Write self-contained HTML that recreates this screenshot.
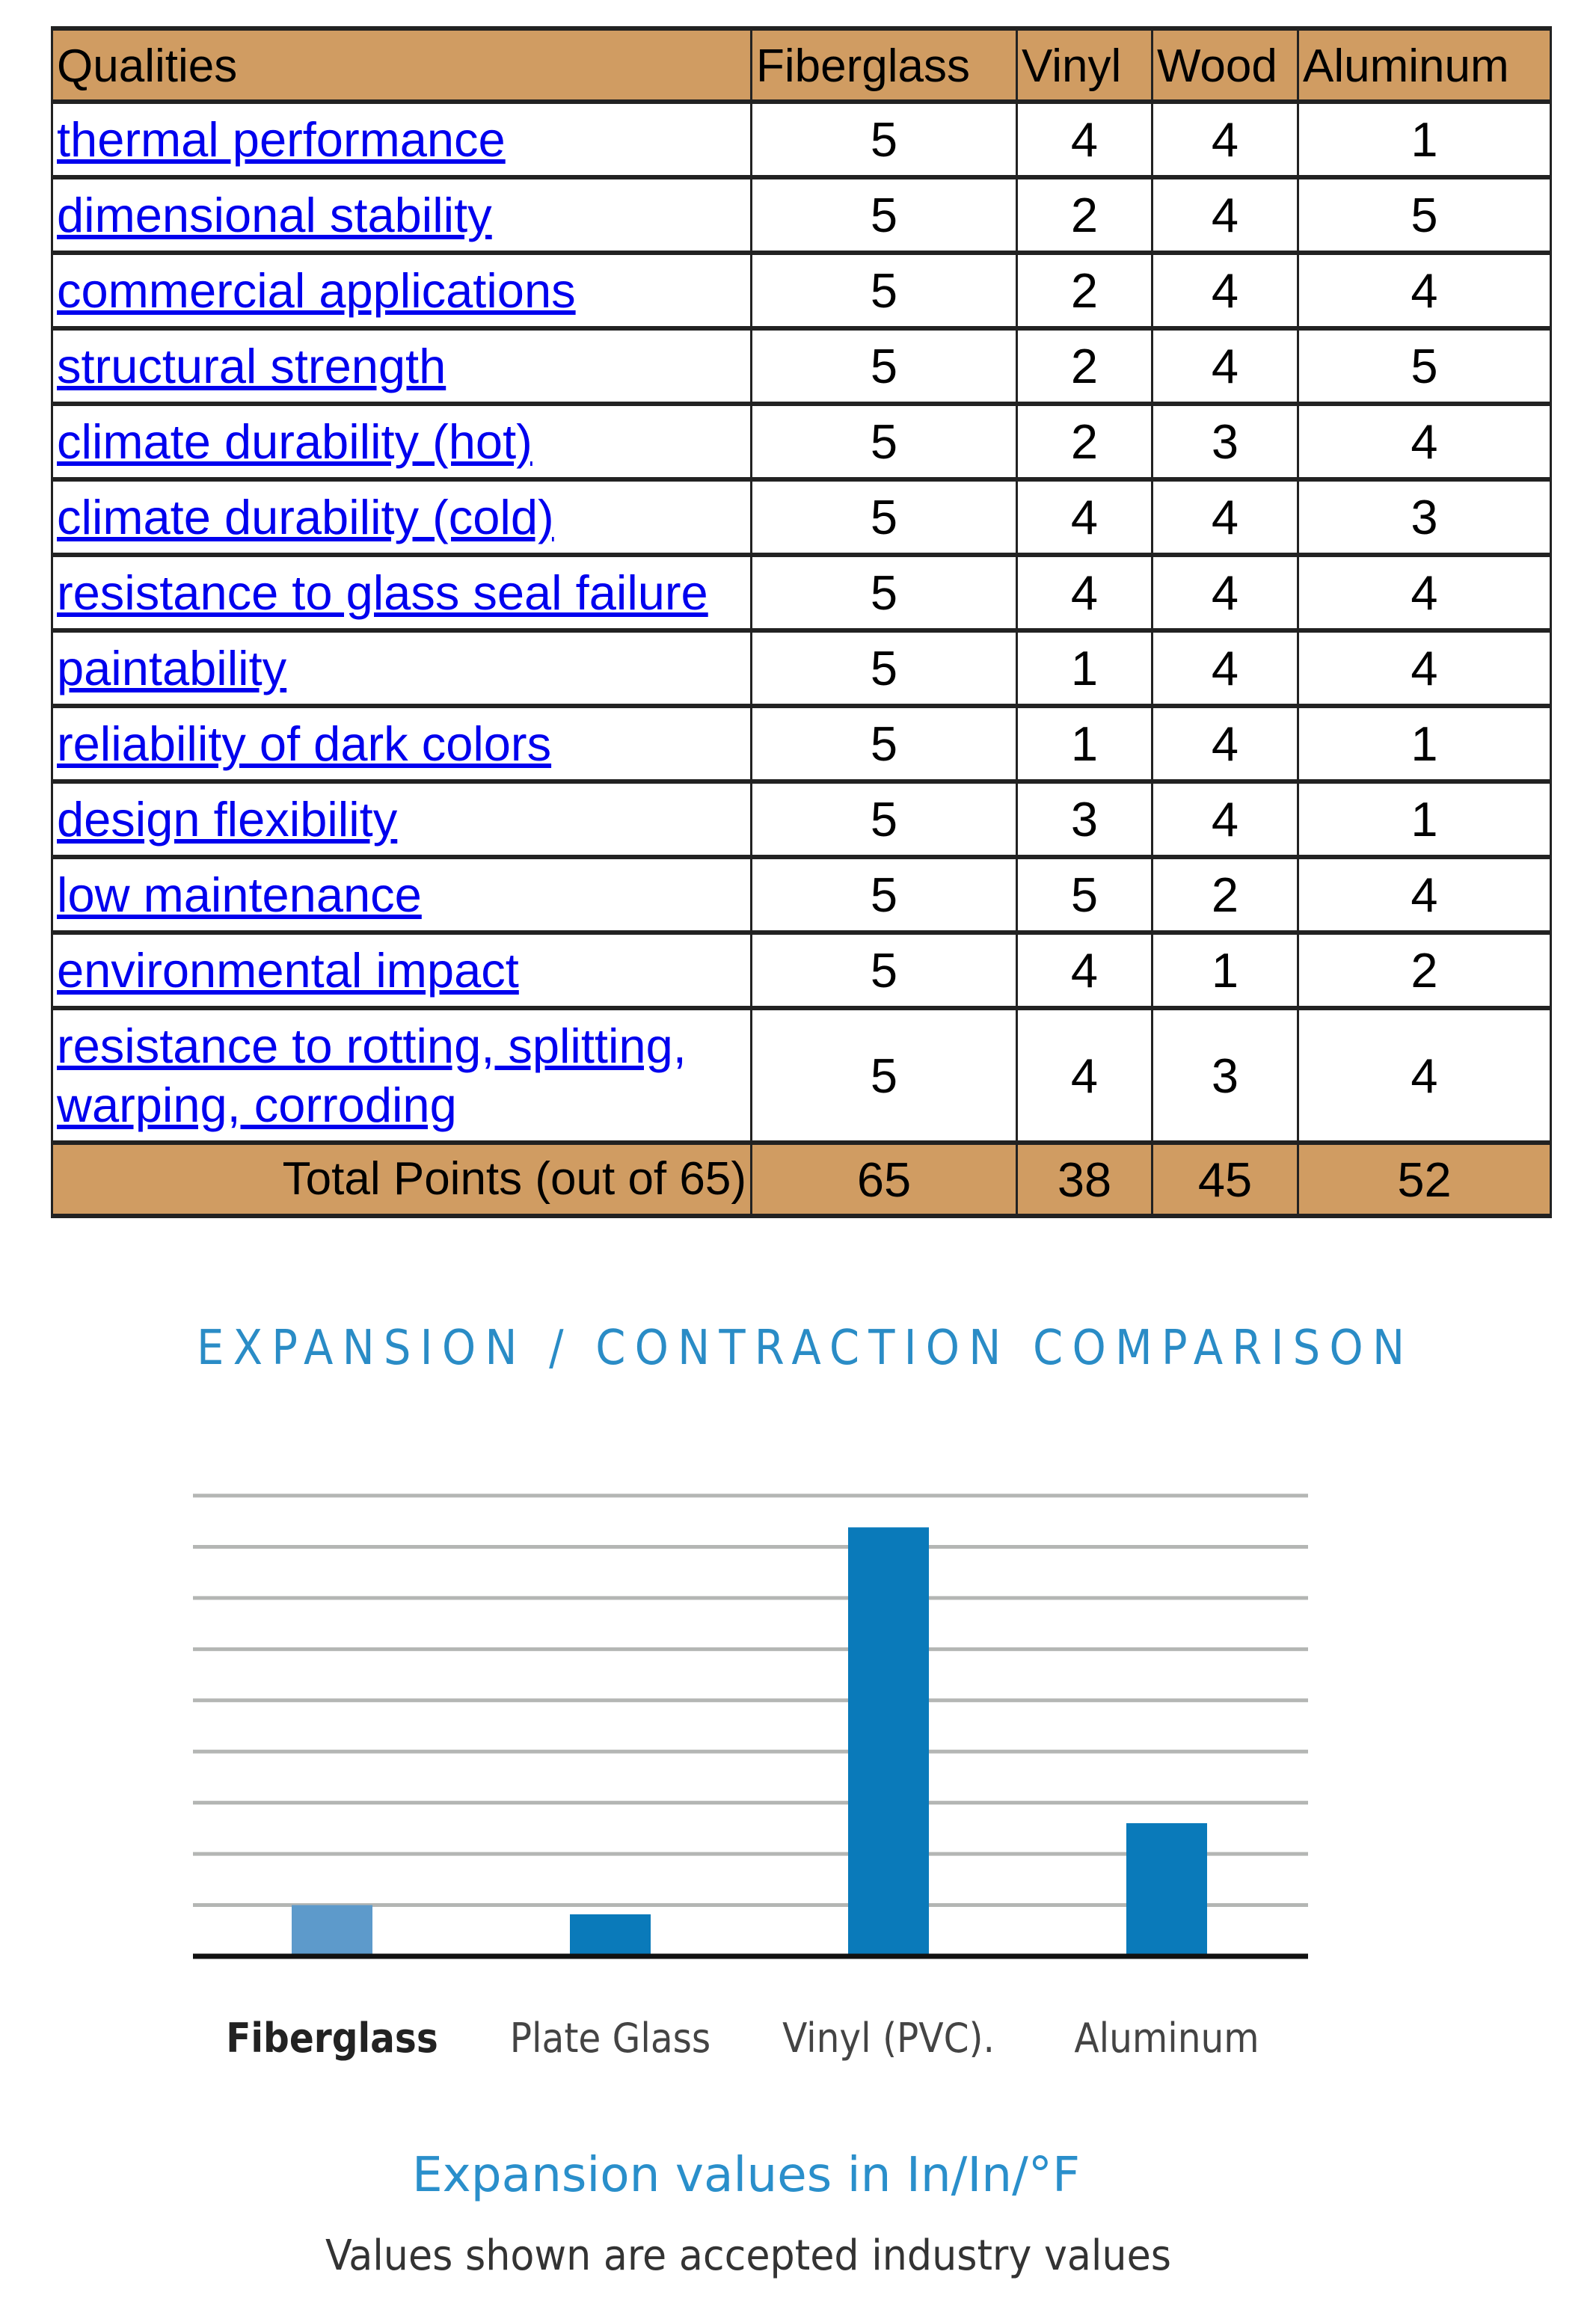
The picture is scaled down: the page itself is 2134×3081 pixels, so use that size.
<!DOCTYPE html>
<html><head><meta charset="utf-8"><style>
html,body{margin:0;padding:0;background:#fff;}
body{width:2134px;height:3081px;position:relative;overflow:hidden;font-family:"Liberation Sans",Arial,sans-serif;}
table{position:absolute;left:68px;top:35px;width:2004px;border-collapse:collapse;table-layout:fixed;font-size:65px;}
td{border-left:3px solid #222;border-right:3px solid #222;border-top:6px solid #222;border-bottom:6px solid #222;padding:0 5px;text-align:center;color:#000;line-height:1;overflow:hidden;}
tr{height:101px;}
.h{height:98px;}
.h td{background:#D09C62;text-align:left;padding-left:5px;padding-top:4px;font-size:62px;}
.t td{background:#D09C62;}
td.q{text-align:left;}
td.q a{color:#0000EE;text-decoration:underline;}
.t td.lbl{text-align:right;font-size:62px;}
</style></head><body>
<table>
<colgroup><col style="width:935px"><col style="width:355px"><col style="width:181px"><col style="width:195px"><col style="width:338px"></colgroup>
<tr class="h"><td>Qualities</td><td>Fiberglass</td><td>Vinyl</td><td>Wood</td><td>Aluminum</td></tr>
<tr><td class="q"><a>thermal performance</a></td><td>5</td><td>4</td><td>4</td><td>1</td></tr>
<tr><td class="q"><a>dimensional stability</a></td><td>5</td><td>2</td><td>4</td><td>5</td></tr>
<tr><td class="q"><a>commercial applications</a></td><td>5</td><td>2</td><td>4</td><td>4</td></tr>
<tr><td class="q"><a>structural strength</a></td><td>5</td><td>2</td><td>4</td><td>5</td></tr>
<tr><td class="q"><a>climate durability (hot)</a></td><td>5</td><td>2</td><td>3</td><td>4</td></tr>
<tr><td class="q"><a>climate durability (cold)</a></td><td>5</td><td>4</td><td>4</td><td>3</td></tr>
<tr><td class="q"><a>resistance to glass seal failure</a></td><td>5</td><td>4</td><td>4</td><td>4</td></tr>
<tr><td class="q"><a>paintability</a></td><td>5</td><td>1</td><td>4</td><td>4</td></tr>
<tr><td class="q"><a>reliability of dark colors</a></td><td>5</td><td>1</td><td>4</td><td>1</td></tr>
<tr><td class="q"><a>design flexibility</a></td><td>5</td><td>3</td><td>4</td><td>1</td></tr>
<tr><td class="q"><a>low maintenance</a></td><td>5</td><td>5</td><td>2</td><td>4</td></tr>
<tr><td class="q"><a>environmental impact</a></td><td>5</td><td>4</td><td>1</td><td>2</td></tr>
<tr style="height:180px"><td class="q" style="line-height:1.22"><a>resistance to rotting, splitting, warping, corroding</a></td><td>5</td><td>4</td><td>3</td><td>4</td></tr>
<tr class="t" style="height:98px"><td class="lbl">Total Points (out of 65)</td><td>65</td><td>38</td><td>45</td><td>52</td></tr>
</table>

<svg id="chart" style="position:absolute;left:0;top:0" width="2134" height="3081">
<text x="263" y="1824" textLength="1615" lengthAdjust="spacing" font-family="DejaVu Sans Condensed, DejaVu Sans, sans-serif" font-size="64" fill="#2a8cc6">EXPANSION / CONTRACTION COMPARISON</text>
<g id="grid"></g><g id="bars"></g><g id="labels"></g>
<text x="551" y="2930" textLength="893" lengthAdjust="spacingAndGlyphs" font-family="DejaVu Sans Condensed, DejaVu Sans, sans-serif" font-size="64" fill="#2a8fcb">Expansion values in In/In/°F</text>
<text x="435" y="3035" textLength="1131" lengthAdjust="spacingAndGlyphs" font-family="DejaVu Sans Condensed, DejaVu Sans, sans-serif" font-size="56" fill="#333">Values shown are accepted industry values</text>
</svg>
<script>
const categories = ["Fiberglass","Plate Glass","Vinyl (PVC).","Aluminum"];
const values = [1.0, 0.82, 8.38, 2.6];
const gridTicks = [1,2,3,4,5,6,7,8,9];
const NS="http://www.w3.org/2000/svg";
const x0=258,x1=1749,yBase=2616,yTop=2000,yMax=9;
function y(v){return yBase-(v/yMax)*(yBase-yTop);}
function xc(i){return 444+i*((1560-444)/(categories.length-1));}
const grid=document.getElementById('grid');
gridTicks.forEach(t=>{const l=document.createElementNS(NS,'line');
l.setAttribute('x1',x0);l.setAttribute('x2',x1);l.setAttribute('y1',y(t));l.setAttribute('y2',y(t));
l.setAttribute('stroke','#b4b6b4');l.setAttribute('stroke-width','5');


grid.appendChild(l);});
const bars=document.getElementById('bars');
const bw=108;
values.forEach((v,i)=>{const r=document.createElementNS(NS,'rect');
r.setAttribute('x',xc(i)-bw/2);r.setAttribute('y',y(v));r.setAttribute('width',bw);r.setAttribute('height',yBase-y(v));
r.setAttribute('fill',i===0?'#5d9acb':'#0a7aba');


bars.appendChild(r);});
const ax=document.createElementNS(NS,'line');
ax.setAttribute('x1',x0);ax.setAttribute('x2',x1);ax.setAttribute('y1',yBase);ax.setAttribute('y2',yBase);
ax.setAttribute('stroke','#111');ax.setAttribute('stroke-width','7');


bars.appendChild(ax);
const labs=document.getElementById('labels');
categories.forEach((c,i)=>{const t=document.createElementNS(NS,'text');
t.setAttribute('x',xc(i));t.setAttribute('y',2744);t.setAttribute('text-anchor','middle');
t.setAttribute('font-family','DejaVu Sans Condensed, DejaVu Sans, sans-serif');t.setAttribute('font-size','54');
t.setAttribute('fill',i===0?'#222':'#444');if(i===0)t.setAttribute('font-weight','bold');
t.textContent=c;


labs.appendChild(t);});
</script>
</body></html>
